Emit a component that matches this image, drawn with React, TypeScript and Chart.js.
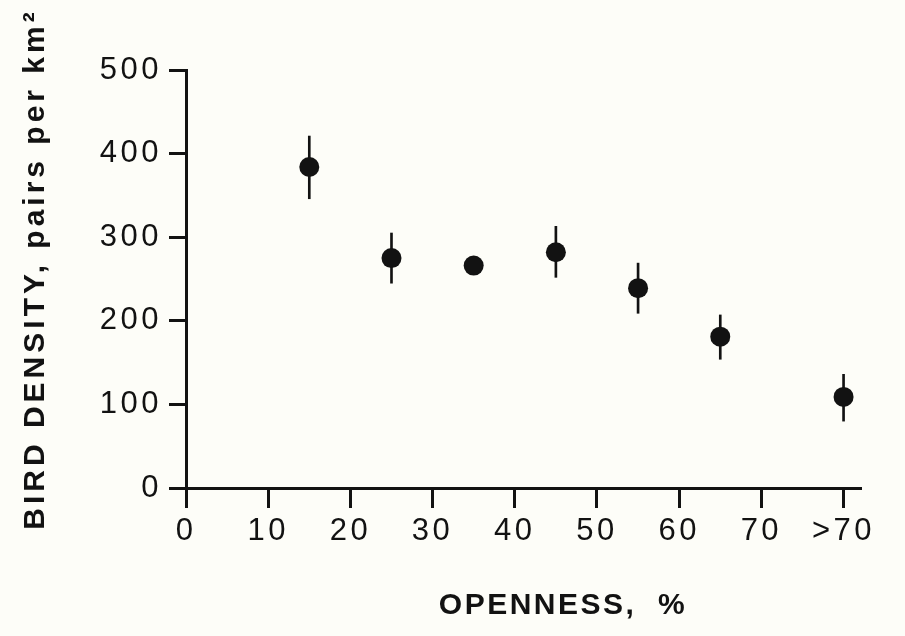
import React, { useEffect, useRef } from 'react';
import { Chart, registerables, LinearScale } from 'chart.js';

// ---- data ----
const X_VALUES = [15, 25, 35, 45, 55, 65, 80];
const DENSITY = [384, 275, 266, 282, 239, 181, 109];
const ERR_LOW = [346, 245, null, 252, 209, 154, 80];
const ERR_HIGH = [421, 305, null, 313, 269, 207, 136];
const X_TICKS = [0, 10, 20, 30, 40, 50, 60, 70, 80];
const X_TICK_LABELS = ['0', '10', '20', '30', '40', '50', '60', '70', '>70'];
const Y_TICKS = [0, 100, 200, 300, 400, 500];
const X_TITLE = 'OPENNESS,  %';
const Y_TITLE = 'BIRD DENSITY, pairs per km²';

// ---- style ----
const INK = '#121212';
const FAMILY = '"Liberation Sans", Arial, Helvetica, sans-serif';
const TEXT_STYLE: Record<string, { title: string; ticks: string; shift: number }> = {
  x: { title: '2.5px', ticks: '3.5px', shift: 40 },
  y: { title: '4px', ticks: '3.5px', shift: -10 },
};

class SpacedLinearScale extends LinearScale {
  static id = 'spacedLinear';

  drawLabels(area: any) {
    const ctx: any = (this as any).ctx;
    ctx.save();
    ctx.letterSpacing = TEXT_STYLE[(this as any).id]?.ticks ?? '0px';
    super.drawLabels(area);
    ctx.restore();
  }

  drawTitle() {
    const self: any = this;
    const t = self.options.title;
    if (!t || !t.display) return;
    const ctx: any = self.ctx;
    const f = t.font || {};
    const size = f.size || 12;
    const lh = size * 1.2;
    const pad = t.padding || {};
    const st = TEXT_STYLE[self.id];
    const shift = st ? st.shift : 0;
    ctx.save();
    ctx.font = `${f.style || 'normal'} ${f.weight || 'normal'} ${size}px ${f.family || FAMILY}`;
    ctx.letterSpacing = st ? st.title : '0px';
    ctx.fillStyle = t.color || INK;
    ctx.textAlign = 'center';
    ctx.textBaseline = 'middle';
    if (self.isHorizontal()) {
      ctx.translate((self.left + self.right) / 2 + shift, self.bottom - lh / 2 - (pad.bottom || 0));
    } else {
      ctx.translate(self.left + lh / 2 + (pad.top || 0), (self.top + self.bottom) / 2 + shift);
      ctx.rotate(-Math.PI / 2);
    }
    ctx.fillText(t.text, 0, 0);
    ctx.restore();
  }
}

Chart.register(...registerables, SpacedLinearScale);

export default function App() {
  const canvasRef = useRef<HTMLCanvasElement | null>(null);

  useEffect(() => {
    if (!canvasRef.current) return;
    const tickFont = { family: FAMILY, size: 31, weight: 'normal' as const };
    const titleFont = { family: FAMILY, size: 30, weight: 'bold' as const };

    const points = X_VALUES.map((x, i) => ({ x, y: DENSITY[i] }));
    const errorBars = X_VALUES.map((x, i) =>
      ERR_LOW[i] == null || ERR_HIGH[i] == null ? null : { x, y: [ERR_LOW[i], ERR_HIGH[i]] }
    ).filter((d) => d !== null);

    const chart = new Chart(canvasRef.current, {
      type: 'scatter',
      data: {
        datasets: [
          {
            type: 'scatter',
            label: 'Bird density',
            data: points,
            pointRadius: 10,
            pointHoverRadius: 10,
            pointBackgroundColor: INK,
            pointBorderWidth: 0,
            showLine: false,
            order: 0,
          } as any,
          {
            type: 'bar',
            label: 'Error',
            data: errorBars as any,
            backgroundColor: INK,
            borderWidth: 0,
            barThickness: 2,
            order: 1,
          } as any,
        ],
      },
      options: {
        responsive: false,
        animation: false,
        layout: { padding: { top: 70, right: 45, bottom: 0, left: 0 } },
        plugins: {
          legend: { display: false },
          tooltip: { enabled: false },
          title: { display: false },
        },
        scales: {
          x: {
            type: 'spacedLinear' as any,
            position: 'bottom',
            min: 0,
            max: 82,
            offset: false,
            afterBuildTicks: (s: any) => {
              s.ticks = X_TICKS.map((v) => ({ value: v }));
            },
            afterFit: (s: any) => {
              s.height = 148;
            },
            grid: {
              display: true,
              drawOnChartArea: false,
              drawTicks: true,
              tickLength: 20,
              tickWidth: 3,
              color: INK,
              lineWidth: 3,
              offset: false,
            },
            border: { display: true, color: INK, width: 3 },
            ticks: {
              padding: 5,
              color: INK,
              font: tickFont,
              autoSkip: false,
              maxRotation: 0,
              callback: (v: any) => {
                const idx = X_TICKS.indexOf(Number(v));
                return idx >= 0 ? X_TICK_LABELS[idx] : '';
              },
            },
            title: {
              display: true,
              text: X_TITLE,
              color: INK,
              font: titleFont,
              padding: { top: 0, bottom: 12 },
            },
          } as any,
          y: {
            type: 'spacedLinear' as any,
            position: 'left',
            min: 0,
            max: 500,
            afterBuildTicks: (s: any) => {
              s.ticks = Y_TICKS.map((v) => ({ value: v }));
            },
            afterFit: (s: any) => {
              s.width = 186;
            },
            grid: {
              display: true,
              drawOnChartArea: false,
              drawTicks: true,
              tickLength: 17,
              tickWidth: 3,
              color: INK,
              lineWidth: 3,
            },
            border: { display: true, color: INK, width: 3 },
            ticks: {
              padding: 7,
              color: INK,
              font: tickFont,
              callback: (v: any) => String(v),
            },
            title: {
              display: true,
              text: Y_TITLE,
              color: INK,
              font: titleFont,
              padding: { top: 18, bottom: 0 },
            },
          } as any,
        },
      },
    });
    return () => chart.destroy();
  }, []);

  return (
    <div
      style={{
        position: 'fixed',
        left: 0,
        top: 0,
        width: 905,
        height: 636,
        background: '#fdfdf8',
      }}
    >
      <canvas ref={canvasRef} width={905} height={636} style={{ display: 'block' }} />
    </div>
  );
}
